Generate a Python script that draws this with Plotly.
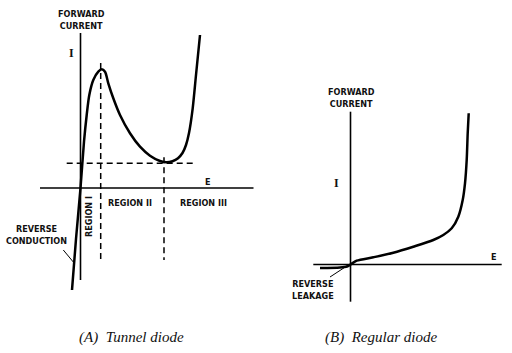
import plotly.graph_objects as go

# ---------------- data: tunnel diode (E, I in arbitrary units) ----------------
tunnel_E = [-0.85, -0.45, 0.0, 0.35, 0.62, 0.88, 1.28, 1.78, 2.12, 2.45, 2.78, 3.28,
            3.95, 4.95, 5.95, 6.95, 7.95, 8.62, 9.2, 9.75, 10.2, 10.55, 10.85, 11.22, 11.55, 11.95]
tunnel_I = [-10.2, -5.1, 0.0, 4.63, 7.3, 9.3, 10.8, 11.63, 11.87, 11.63, 10.47, 8.97,
            7.3, 5.47, 4.13, 3.23, 2.7, 2.57, 2.68, 2.98, 3.5, 4.3, 5.5, 7.97, 11.3, 15.3]
peak_E, peak_I = 2.02, 11.87
valley_E, valley_I = 8.35, 2.47

# ---------------- data: regular diode ----------------
regular_E = [-3.05, -1.05, -0.35, 0.0, 0.62, 2.28, 4.28, 6.28, 8.28, 9.28, 10.12,
             10.78, 11.22, 11.45, 11.62, 11.72, 11.82]
regular_I = [-0.35, -0.3, -0.2, 0.0, 0.38, 0.72, 1.18, 1.78, 2.45, 2.95, 3.62,
             4.78, 6.45, 8.12, 10.45, 13.12, 15.12]

# axis extents (data units)
tA_E = [-4.05, 17.3]
tA_I = [-9.2, 15.5]
rA_E = [-3.72, 15.12]
rA_I = [-3.72, 15.28]

FONT_LBL = "DejaVu Sans Condensed, Liberation Sans Narrow, Arial Narrow, sans-serif"
FONT_SERIF = "Liberation Serif, DejaVu Serif, serif"

fig = go.Figure()

def line(x, y, ax, width=1.6, dash="solid", shape="linear", smoothing=1.0):
    ln = dict(color="black", width=width, dash=dash, shape=shape)
    if shape == "spline":
        ln["smoothing"] = smoothing
    fig.add_trace(go.Scatter(x=x, y=y, mode="lines", xaxis=ax[0], yaxis=ax[1],
                             line=ln, hoverinfo="skip", showlegend=False))

A = ("x", "y")
B = ("x2", "y2")

# tunnel diode axes
line(tA_E, [0, 0], A, 1.6)
line([0, 0], tA_I, A, 1.6)
# dashed guides
line([-1.38, 11.25], [valley_I, valley_I], A, 1.5, "6px,4px")
line([peak_E, peak_E], [12.5, -7.2], A, 1.5, "6px,4px")
line([valley_E, valley_E], [valley_I + 0.6, -7.2], A, 1.5, "6px,4px")
# curve
line(tunnel_E, tunnel_I, A, 2.5, shape="spline", smoothing=0.8)
# leader
line([-1.72, -0.72], [-6.2, -7.4], A, 1.0)

# regular diode axes
line(rA_E, [0, 0], B, 1.6)
line([0, 0], rA_I, B, 1.6)
line(regular_E, regular_I, B, 2.5, shape="spline", smoothing=0.8)
line([-2.05, -0.22], [-1.25, -0.05], B, 1.0)

ann = []
def txt(x, y, t, ax, size=9, font=FONT_LBL, angle=0, color="#111"):
    ann.append(dict(x=x, y=y, xref=ax[0], yref=ax[1], text=t, showarrow=False,
                    font=dict(family=font, size=size, color=color), textangle=angle,
                    align="center"))

txt(0.12, 16.8, "<b>FORWARD<br>CURRENT</b>", A)
txt(-0.88, 13.5, "<b>I</b>", A, 12, FONT_SERIF)
txt(12.72, 0.63, "<b>E</b>", A)
txt(4.95, -1.47, "<b>REGION II</b>", A)
txt(12.28, -1.47, "<b>REGION III</b>", A)
txt(0.78, -2.87, "<b>REGION I</b>", A, angle=-90)
txt(-4.38, -4.7, "<b>REVERSE<br>CONDUCTION</b>", A)
txt(5.12, -14.9, "<i>(A)  Tunnel diode</i>", A, 15, FONT_SERIF)

txt(0.12, 16.7, "<b>FORWARD<br>CURRENT</b>", B)
txt(-1.38, 8.18, "<b>I</b>", B, 12, FONT_SERIF)
txt(14.38, 0.72, "<b>E</b>", B)
txt(-3.72, -2.55, "<b>REVERSE<br>LEAKAGE</b>", B)
txt(3.05, -7.25, "<i>(B)  Regular diode</i>", B, 15, FONT_SERIF)

hidden = dict(visible=False, showgrid=False, zeroline=False, fixedrange=True)
fig.update_layout(
    width=512, height=353, margin=dict(l=0, r=0, t=0, b=0),
    paper_bgcolor="white", plot_bgcolor="white", showlegend=False,
    xaxis=dict(domain=[0, 0.5], range=[-8.05, 17.55], **hidden),
    yaxis=dict(domain=[0, 1], range=[-16.5, 18.8], **hidden),
    xaxis2=dict(domain=[0.5, 1], range=[-9.45, 16.15], anchor="y2", **hidden),
    yaxis2=dict(domain=[0, 1], range=[-8.85, 26.45], anchor="x2", **hidden),
    annotations=ann,
)

fig.write_html("out.html")
